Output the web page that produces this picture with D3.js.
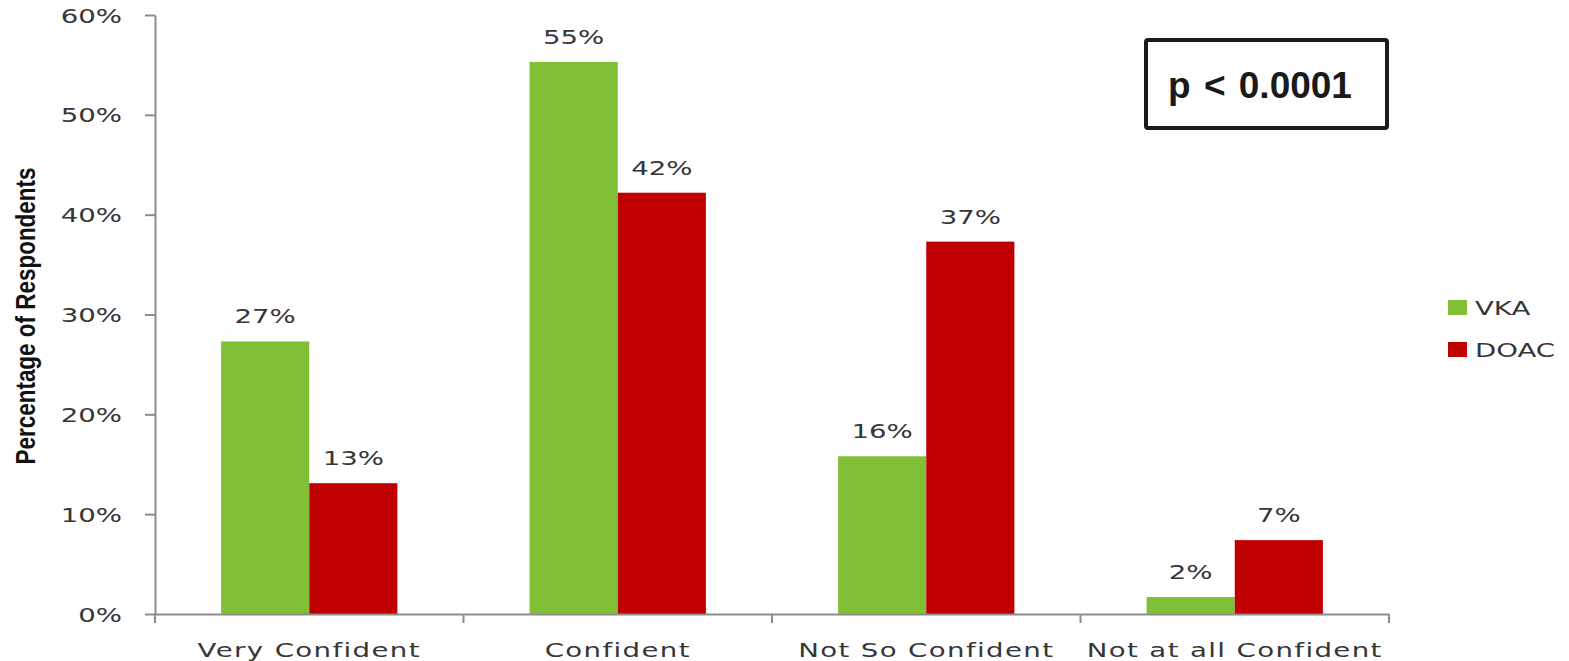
<!DOCTYPE html>
<html>
<head>
<meta charset="utf-8">
<title>Confidence by anticoagulant</title>
<style>
	body { margin: 0; background: #fff; }
	.lbl { font-family: 'DejaVu Sans'; fill: #363636; }
	.axis path, .axis line { stroke: #8c8c8c; stroke-width: 2px; }
</style>
</head>
<body>
<svg width="1569" height="661"></svg>
<script src="https://d3js.org/d3.v7.min.js"></script>
<script>

const categories = ['Very Confident', 'Confident', 'Not So Confident', 'Not at all Confident'];
const seriesNames = ['VKA', 'DOAC'];
const vka = [27.3, 55.3, 15.8, 1.7];
const doac = [13.1, 42.2, 37.3, 7.4];
const yTicks = [0, 10, 20, 30, 40, 50, 60];

const colors = ['#80bf36', '#c00000'];
const plotLeft = 155, plotRight = 1389, plotTop = 15, plotBottom = 614;
const sx = 1.38; // the original text is stretched sideways

const svg = d3.select('svg');

const x0 = d3.scaleBand().domain(categories).range([plotLeft, plotRight]).padding(0);
const x1 = d3.scaleBand().domain(seriesNames).range([0, x0.bandwidth()])
	.paddingInner(0).paddingOuter(0.75);
const y = d3.scaleLinear().domain([0, 60]).range([plotBottom, plotTop]);
const color = d3.scaleOrdinal().domain(seriesNames).range(colors);

const rows = categories.map((c, i) => ({cat: c, vals: [
	{key: 'VKA', v: vka[i]},
	{key: 'DOAC', v: doac[i]}
]}));

// stretched text helper
function stext(g, x, yy, txt, size, anchor) {
	return g.append('text')
		.attr('class', 'lbl')
		.attr('transform', `translate(${x},${yy}) scale(${sx},1)`)
		.attr('text-anchor', anchor)
		.style('font-size', size + 'px')
		.text(txt);
}

// bars
const groups = svg.selectAll('g.grp')
	.data(rows)
	.join('g')
	.attr('class', 'grp')
	.attr('transform', d => `translate(${x0(d.cat)},0)`);

groups.selectAll('rect')
	.data(d => d.vals)
	.join('rect')
	.attr('x', d => x1(d.key))
	.attr('y', d => y(d.v))
	.attr('width', x1.bandwidth())
	.attr('height', d => y(0) - y(d.v))
	.attr('fill', d => color(d.key));

groups.each(function(d) {
	const g = d3.select(this);
	d.vals.forEach(b => {
		stext(g, x1(b.key) + x1.bandwidth() / 2, y(b.v) - 18, Math.round(b.v) + '%', 20, 'middle');
	});
});

// y axis
svg.append('g')
	.attr('class', 'axis')
	.attr('transform', `translate(${plotLeft},0)`)
	.call(d3.axisLeft(y).tickValues(yTicks).tickSize(10).tickSizeOuter(0).tickFormat(''));

yTicks.forEach(t => {
	stext(svg, plotLeft - 33, y(t) + 7.5, t + '%', 20, 'end');
});

// x axis
svg.append('g')
	.attr('class', 'axis')
	.attr('transform', `translate(0,${plotBottom})`)
	.call(d3.axisBottom(x0).tickSize(0).tickFormat(''));

const bounds = categories.map(c => x0(c)).concat([x0.range()[1]]);
svg.append('g').attr('class', 'axis')
	.selectAll('line')
	.data(bounds)
	.join('line')
	.attr('x1', d => d).attr('x2', d => d)
	.attr('y1', plotBottom).attr('y2', plotBottom + 9);

categories.forEach(c => {
	stext(svg, x0(c) + x0.bandwidth() / 2, 657, c, 20, 'middle').style('letter-spacing', '1px');
});

// y title
svg.append('text')
	.attr('transform', 'translate(35,316) rotate(-90)')
	.attr('text-anchor', 'middle')
	.attr('textLength', 297)
	.attr('lengthAdjust', 'spacingAndGlyphs')
	.style('font-family', "'Liberation Sans Narrow', 'Liberation Sans'")
	.style('font-weight', 'bold')
	.style('font-size', '27px')
	.style('fill', '#111')
	.text('Percentage of Respondents');

// p value box
svg.append('rect')
	.attr('x', 1146).attr('y', 40)
	.attr('width', 241).attr('height', 88)
	.attr('rx', 2)
	.attr('fill', 'none')
	.attr('stroke', '#1a1a1a')
	.attr('stroke-width', 4);

svg.append('text')
	.attr('x', 1168).attr('y', 98)
	.style('font-family', "'Liberation Sans', Arial, sans-serif")
	.style('font-weight', 'bold')
	.style('font-size', '37px')
	.style('word-spacing', '3px')
	.style('fill', '#1a1a1a')
	.text('p < 0.0001');

// legend
const legend = svg.append('g').attr('transform', 'translate(1448,300)');
seriesNames.forEach((s, i) => {
	legend.append('rect')
		.attr('x', 0).attr('y', i * 42)
		.attr('width', 19).attr('height', 15)
		.attr('fill', color(s));
	stext(legend, 27, i * 42 + 15, s, 20, 'start');
});

</script>
</body>
</html>
